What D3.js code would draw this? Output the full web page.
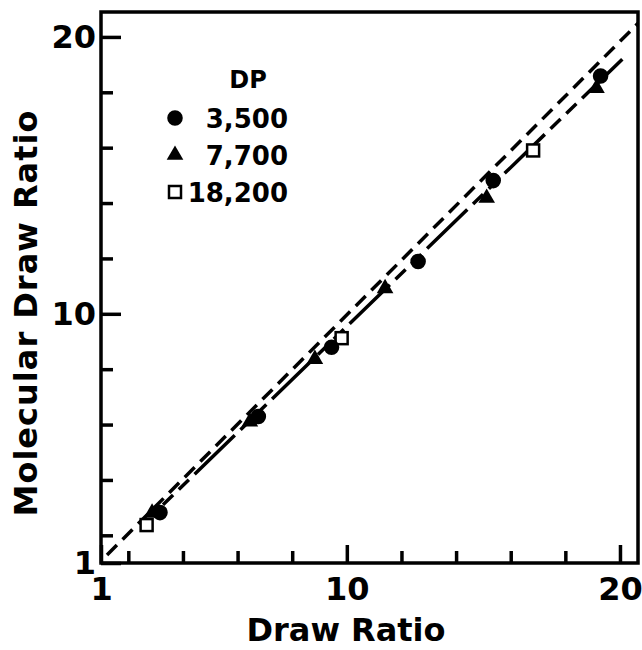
<!DOCTYPE html>
<html>
<head>
<meta charset="utf-8">
<script src="https://cdn.jsdelivr.net/npm/d3@7"></script>
<style>
  html, body { margin: 0; padding: 0; background: #fff; }
  svg { display: block; font-family: "DejaVu Sans", sans-serif; font-weight: bold; }
</style>
</head>
<body>
<div id="chart"></div>
<script>
// values (draw ratio vs molecular draw ratio)
const dp3500 = [[3.16, 2.82], [6.76, 6.29], [9.44, 8.79], [12.61, 11.89], [15.36, 14.81], [19.29, 18.59]];
const dp7700 = [[2.87, 2.81], [6.45, 6.10], [8.83, 8.36], [11.40, 10.92], [15.12, 14.18], [19.14, 18.15]];
const dp18200 = [[2.67, 2.37], [9.81, 9.12], [16.82, 15.90]];
const upperLine = [[1.22, 1.29], [20.67, 20.50]];
const lowerLine = [[3.27, 3.10], [20.12, 19.23]];
const seriesNames = ['3,500', '7,700', '18,200'];
const majorTicks = [1, 10, 20];
const minorTicks = [2, 4, 6, 8, 12, 14, 16, 18];

const width = 642, height = 650;
const mLeft = 101, mRight = 638, mTop = 12, mBottom = 563;

const x = d3.scaleLinear().domain([1, 20.66]).range([mLeft, mRight]);
const y = d3.scaleLinear().domain([1, 20.9]).range([mBottom, mTop]);

const svg = d3.select('#chart').append('svg')
  .attr('width', width)
  .attr('height', height);

svg.append('defs').append('clipPath').attr('id', 'plot')
  .append('rect').attr('x', mLeft).attr('y', mTop).attr('width', mRight - mLeft).attr('height', mBottom - mTop);

// axes, ticks pointing inward
function styleAxis(g) {
  g.select('.domain').remove();
  g.selectAll('line').attr('stroke', '#000').attr('stroke-width', 3.5);
  g.selectAll('text').attr('fill', '#000').attr('font-size', 32).attr('font-family', '"DejaVu Sans", sans-serif').attr('font-weight', 'bold');
}

svg.append('g').attr('transform', `translate(0,${mBottom})`)
  .call(d3.axisBottom(x).tickValues(minorTicks).tickSizeInner(-12).tickSizeOuter(0).tickFormat(''))
  .call(styleAxis);
svg.append('g').attr('transform', `translate(0,${mBottom})`)
  .call(d3.axisBottom(x).tickValues(majorTicks).tickSizeInner(-18).tickSizeOuter(0).tickPadding(14).tickFormat(d3.format('d')))
  .call(styleAxis);

svg.append('g').attr('transform', `translate(${mLeft},0)`)
  .call(d3.axisLeft(y).tickValues(minorTicks).tickSizeInner(-12).tickSizeOuter(0).tickFormat(''))
  .call(styleAxis);
svg.append('g').attr('transform', `translate(${mLeft},0)`)
  .call(d3.axisLeft(y).tickValues(majorTicks).tickSizeInner(-20).tickSizeOuter(0).tickPadding(5).tickFormat(d3.format('d')))
  .call(styleAxis);

// frame
svg.append('rect')
  .attr('x', mLeft).attr('y', mTop)
  .attr('width', mRight - mLeft).attr('height', mBottom - mTop)
  .attr('fill', 'none').attr('stroke', '#000').attr('stroke-width', 3.5);

// axis titles
svg.append('text')
  .attr('x', 346).attr('y', 641)
  .attr('text-anchor', 'middle')
  .attr('font-size', 32)
  .text('Draw Ratio');

svg.append('text')
  .attr('transform', 'translate(37,313) rotate(-90)')
  .attr('text-anchor', 'middle')
  .attr('font-size', 32)
  .attr('letter-spacing', 1)
  .text('Molecular Draw Ratio');

// fitted lines
const line = d3.line().x(d => x(d[0])).y(d => y(d[1]));
const plot = svg.append('g').attr('clip-path', 'url(#plot)');

plot.append('path').datum(upperLine)
  .attr('d', line)
  .attr('fill', 'none').attr('stroke', '#000').attr('stroke-width', 3.5)
  .attr('stroke-dasharray', '14 8');

plot.append('path').datum(lowerLine)
  .attr('d', line)
  .attr('fill', 'none').attr('stroke', '#000').attr('stroke-width', 3.5)
  .attr('stroke-dasharray', '14 8 14 8 56 8');

// markers
const circle = d3.symbol().type(d3.symbolCircle).size(190);
const triangle = d3.symbol().type(d3.symbolTriangle).size(120);

function drawCircle(g, cx, cy) {
  g.append('path').attr('d', circle()).attr('transform', `translate(${cx},${cy})`).attr('fill', '#000');
}
function drawTriangle(g, cx, cy) {
  g.append('path').attr('d', triangle()).attr('transform', `translate(${cx},${cy})`).attr('fill', '#000');
}
function drawSquare(g, cx, cy) {
  g.append('rect').attr('x', cx - 6).attr('y', cy - 6).attr('width', 12).attr('height', 12)
    .attr('fill', '#fff').attr('stroke', '#000').attr('stroke-width', 2.5);
}

const markers = plot.append('g');
dp18200.forEach(d => drawSquare(markers, x(d[0]), y(d[1])));
dp7700.forEach(d => drawTriangle(markers, x(d[0]), y(d[1])));
dp3500.forEach(d => drawCircle(markers, x(d[0]), y(d[1])));

// legend
const legend = svg.append('g');
legend.append('text').attr('x', 248).attr('y', 88).attr('text-anchor', 'middle').attr('font-size', 24).text('DP');
const drawers = [drawCircle, drawTriangle, drawSquare];
seriesNames.forEach((name, i) => {
  const cy = 118 + i * 37;
  drawers[i](legend, 175, cy);
  legend.append('text').attr('x', 288).attr('y', cy + 10).attr('text-anchor', 'end')
    .attr('font-size', 26).text(name);
});
</script>
</body>
</html>
